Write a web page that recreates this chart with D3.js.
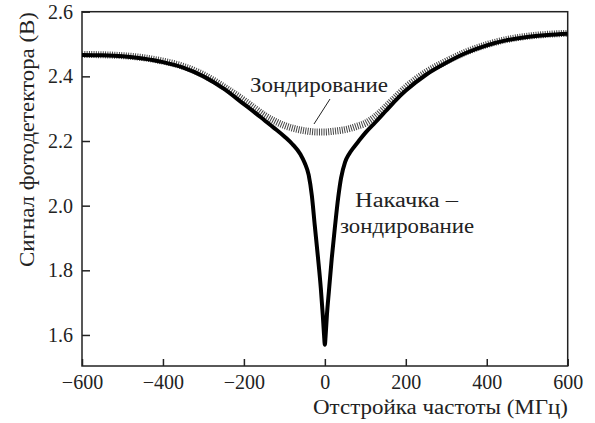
<!DOCTYPE html>
<html><head><meta charset="utf-8">
<script src="https://cdn.jsdelivr.net/npm/d3@7"></script>
<style>body{margin:0;background:#fff}svg{display:block}
svg text{font-family:"Liberation Serif","Times New Roman",Tinos,Times,"DejaVu Serif",serif !important;}
</style>
</head><body>
<script>
const pumpFreq = [-600,-550,-500,-450,-400,-350,-300,-250,-200,-175,-150,-125,-100,-80,-60,-50,-40,-32,-25,-17,-10,-5,-2,0,2,5,10,17,25,33,40,50,60,70,85,100,125,150,175,200,250,300,350,400,450,500,550,600];
const pumpProbe = [2.466,2.465,2.462,2.455,2.444,2.427,2.400,2.362,2.314,2.290,2.265,2.240,2.214,2.190,2.158,2.133,2.095,2.030,1.940,1.840,1.745,1.660,1.600,1.570,1.600,1.660,1.735,1.836,1.935,2.025,2.085,2.135,2.160,2.178,2.202,2.225,2.258,2.292,2.326,2.356,2.405,2.442,2.473,2.496,2.512,2.522,2.528,2.532];
const probeFreq = [-600,-500,-400,-350,-300,-250,-200,-175,-150,-125,-100,-80,-60,-40,-20,0,20,40,60,80,100,125,150,175,200,250,300,350,400,450,500,550,600];
const probe = [2.468,2.464,2.447,2.431,2.405,2.368,2.326,2.303,2.280,2.262,2.248,2.240,2.234,2.230,2.228,2.228,2.230,2.233,2.238,2.246,2.255,2.276,2.305,2.336,2.366,2.413,2.447,2.476,2.498,2.514,2.524,2.530,2.533];
const xTicks = [-600,-400,-200,0,200,400,600];
const yTicks = [1.6,1.8,2.0,2.2,2.4,2.6];
const xTitle = "Отстройка частоты (МГц)";
const yTitle = "Сигнал фотодетектора (В)";
const probeLabel = "Зондирование";
const pumpLabel = ["Накачка –", "зондирование"];

const W = 595, H = 423;
const L = 82, R = 567.7, T = 11.7, B = 366;
const svg = d3.select("body").append("svg").attr("width", W).attr("height", H);
const x = d3.scaleLinear().domain([-600, 600]).range([L, R]);
const y = d3.scaleLinear().domain([1.504, 2.6]).range([B, T]);
const ink = "#222";

const gx = svg.append("g").attr("transform", `translate(0,${B})`)
  .call(d3.axisBottom(x).tickValues(xTicks).tickSize(-7).tickPadding(9)
    .tickFormat(d => d < 0 ? "\u2212" + Math.abs(d) : String(d)));
const gy = svg.append("g").attr("transform", `translate(${L},0)`)
  .call(d3.axisLeft(y).tickValues(yTicks).tickSize(-8).tickPadding(9).tickFormat(d3.format(".1f")));
[gx, gy].forEach(g => {
  g.select(".domain").remove();
  g.selectAll("line").attr("stroke", ink).attr("stroke-width", 1.5);
  g.selectAll("text").attr("fill", ink).style("font-size", "20px");
});

svg.append("rect").attr("x", L).attr("y", T).attr("width", R - L).attr("height", B - T)
  .attr("fill", "none").attr("stroke", ink).attr("stroke-width", 1.5);

svg.append("clipPath").attr("id", "c").append("rect")
  .attr("x", L).attr("y", T).attr("width", R - L).attr("height", B - T);

const line = d3.line().x(d => x(d[0])).y(d => y(d[1])).curve(d3.curveMonotoneX);
const plot = svg.append("g").attr("clip-path", "url(#c)");
plot.append("path").datum(probeFreq.map((f, i) => [f, probe[i]]))
  .attr("d", line).attr("fill", "none").attr("stroke", "#444")
  .attr("stroke-width", 7).attr("stroke-dasharray", "1,1.3");
plot.append("path").datum(pumpFreq.map((f, i) => [f, pumpProbe[i]]))
  .attr("d", line).attr("fill", "none").attr("stroke", "#000")
  .attr("stroke-width", 4).attr("stroke-linejoin", "round");

function label(xc, yb, txt, len, rot) {
  const t = svg.append("text").attr("text-anchor", "middle").attr("fill", ink)
    .style("font-size", "20px").attr("textLength", len).attr("lengthAdjust", "spacingAndGlyphs").text(txt);
  if (rot) t.attr("transform", `translate(${xc},${yb}) rotate(-90)`);
  else t.attr("x", xc).attr("y", yb);
  return t;
}
label(319, 92, probeLabel, 138);
svg.append("line").attr("x1", 330).attr("y1", 99).attr("x2", 314).attr("y2", 124)
  .attr("stroke", ink).attr("stroke-width", 1);
label(406.5, 207, pumpLabel[0], 103);
label(407, 233, pumpLabel[1], 134);
label(440.5, 414, xTitle, 255);
label(34, 139.5, yTitle, 255, true);
</script>
</body></html>
